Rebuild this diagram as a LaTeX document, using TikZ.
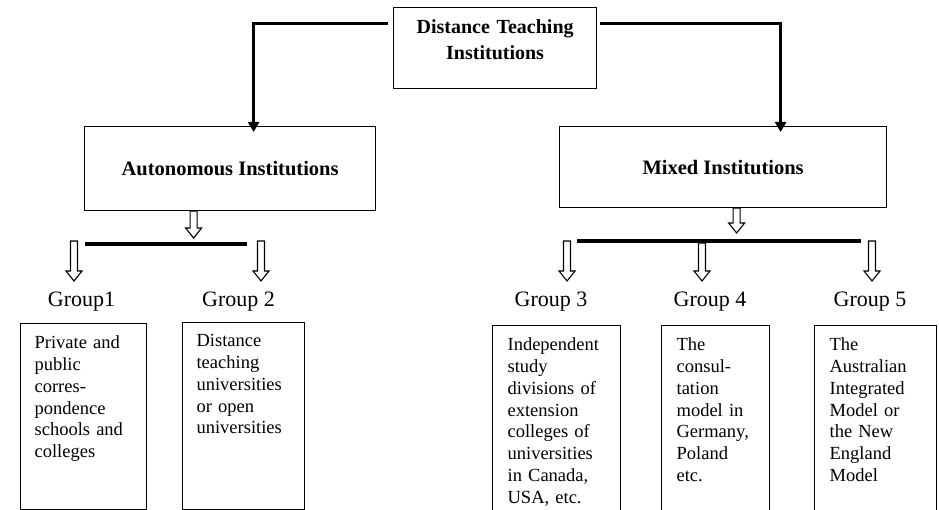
\documentclass[tikz,border=0pt]{standalone}
\usepackage{fontspec}
\setmainfont{Liberation Serif}
\usetikzlibrary{positioning}
\usetikzlibrary{calc}
\usetikzlibrary{arrows.meta}

\newcommand{\hollowarrow}[2]{%
  \draw[hollowline] let \p1=#1, \p2=#2 in
  (\x1-3.5pt,\y1) -- (\x1+3.5pt,\y1) -- (\x1+3.5pt,\y2+10pt) -- (\x1+8pt,\y2+10pt)
  -- (\x1,\y2) -- (\x1-8pt,\y2+10pt) -- (\x1-3.5pt,\y2+10pt) -- cycle;}

\begin{document}
\begin{tikzpicture}[x=1pt, y=-1pt,
                headbox/.style={rectangle, draw, line width=1.2pt, font=\fontsize{20}{26}\selectfont\bfseries, align=center, inner sep=0pt, anchor=north west},
                leafbox/.style={rectangle, draw, line width=1.2pt, anchor=north west, font=\fontsize{18.5}{21.8}\selectfont, align=left, inner ysep=0pt},
                grouplabel/.style={font=\fontsize{22}{26}\selectfont, anchor=base, inner sep=0pt},
                trunk/.style={line width=3pt, -{Triangle[length=10pt, width=11pt]}},
                bar/.style={line width=4pt},
                hollowline/.style={draw, fill=white, line width=1.1pt, line join=miter},
                ]
                \useasboundingbox (0,0) rectangle (939,510);
                \clip (0,0) rectangle (939,510);

                \node[headbox, text width=193pt, inner xsep=5pt, text height=26pt, text depth=55pt] (dti) at (393,7) {Distance Teaching\\Institutions};
                \node[headbox, font=\fontsize{20.5}{24}\selectfont\bfseries, minimum width=291pt, minimum height=84pt] (auto) at (84,126) {Autonomous Institutions};
                \node[headbox, font=\fontsize{20.5}{24}\selectfont\bfseries, minimum width=327pt, minimum height=81pt] (mixed) at (559,126) {Mixed Institutions};

                \coordinate (lbarw) at (85,244);
                \coordinate (lbare) at (247,244);
                \coordinate (rbarw) at (577,241);
                \coordinate (rbare) at (861,241);

                \node[grouplabel] (grp1) at (81.5,307) {Group1};
                \node[grouplabel] (grp2) at (238.5,307) {Group 2};
                \node[grouplabel] (grp3) at (551,307) {Group 3};
                \node[grouplabel] (grp4) at (710,307) {Group 4};
                \node[grouplabel] (grp5) at (870,307) {Group 5};

                \node[leafbox, text width=98pt, inner xsep=14pt, text height=25pt, text depth=161pt] (g1box) at (20,323) {Private and\\public\\corres-\\pondence\\schools and\\colleges};
                \node[leafbox, text width=94pt, inner xsep=14pt, text height=24pt, text depth=163pt] (g2box) at (182,322) {Distance\\teaching\\universities\\or open\\universities};
                \node[leafbox, text width=98pt, inner xsep=15pt, text height=25pt, text depth=175pt] (g3box) at (492,325) {Independent\\study\\divisions of\\extension\\colleges of\\universities\\in Canada,\\USA, etc.};
                \node[leafbox, text width=78pt, inner xsep=15pt, text height=25pt, text depth=175pt] (g4box) at (661,325) {The\\consul-\\tation\\model in\\Germany,\\Poland\\etc.};
                \node[leafbox, text width=92pt, inner xsep=15pt, text height=25pt, text depth=175pt] (g5box) at (814,325) {The\\Australian\\Integrated\\Model or\\the New\\England\\Model};

                \draw[trunk] ([xshift=-5pt, yshift=-17pt]dti.north west) -| ([xshift=23.5pt, yshift=-6pt]auto.north);
                \draw[trunk] ([xshift=3pt, yshift=-17pt]dti.north east) -| ([xshift=57.5pt, yshift=-6pt]mixed.north);

                \draw[bar] (lbarw) -- (lbare);
                \draw[bar] (rbarw) -- (rbare);

                \hollowarrow{([xshift=-36.5pt]auto.south)}{([yshift=6pt]lbarw)}
                \hollowarrow{([xshift=-11pt, yshift=3pt]lbarw)}{([yshift=-37pt]lbarw)}
                \hollowarrow{([xshift=14pt, yshift=3pt]lbare)}{([yshift=-37pt]lbare)}
                \hollowarrow{([xshift=13.5pt]mixed.south)}{([yshift=8pt]rbarw)}
                \hollowarrow{([xshift=-10pt]rbarw)}{([yshift=-40pt]rbarw)}
                \hollowarrow{([xshift=125pt, yshift=-2pt]rbarw)}{([yshift=-40pt]rbarw)}
                \hollowarrow{([xshift=11pt]rbare)}{([yshift=-40pt]rbare)}
            \end{tikzpicture}
\end{document}
